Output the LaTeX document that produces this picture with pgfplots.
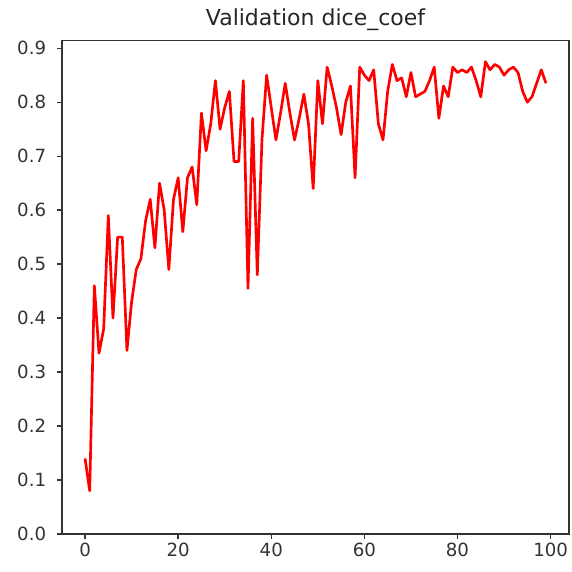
\documentclass[border=0pt]{standalone}
\usepackage{pgfplots}
\pgfplotsset{compat=1.18}
\usepackage{fontspec}
\setmainfont{DejaVu Sans}
\begin{document}
\begin{tikzpicture}
\path[use as bounding box] (0pt,0pt) rectangle (343.2pt,343.2pt);
\begin{axis}[
  at={(37.2pt,22.8pt)}, anchor=south west,
  scale only axis,
  width=304.2pt, height=296pt,
  xmin=-4.95, xmax=103.95,
  ymin=0, ymax=0.914,
  xtick={0,20,40,60,80,100},
  ytick={0,0.1,0.2,0.3,0.4,0.5,0.6,0.7,0.8,0.9},
  tick align=outside,
  tick pos=left,
  major tick length=3pt,
  axis line style={line width=0.8pt, black!80},
  tick style={line width=0.8pt, black!80},
  /pgf/number format/assume math mode=true,
  yticklabel style={/pgf/number format/fixed, /pgf/number format/fixed zerofill, /pgf/number format/precision=1, xshift=-3pt},
  xticklabel style={/pgf/number format/fixed, yshift=1pt},
  tick label style={font=\fontsize{10.9}{13}\selectfont, text=black!80},
  title={Validation dice\_coef},
  title style={font=\fontsize{13.2}{15}\selectfont, anchor=base, at={(0.5,1)}, yshift=2.8pt, text=black!85},
]
\addplot[color=red, line width=1.6pt, line join=round] table[x=i, y=v] {
i v
0 0.14
1 0.08
2 0.46
3 0.335
4 0.38
5 0.59
6 0.40
7 0.55
8 0.55
9 0.34
10 0.43
11 0.49
12 0.51
13 0.58
14 0.62
15 0.53
16 0.65
17 0.60
18 0.49
19 0.62
20 0.66
21 0.56
22 0.66
23 0.68
24 0.61
25 0.78
26 0.71
27 0.76
28 0.84
29 0.75
30 0.79
31 0.82
32 0.69
33 0.69
34 0.84
35 0.455
36 0.77
37 0.48
38 0.73
39 0.85
40 0.79
41 0.73
42 0.78
43 0.835
44 0.78
45 0.73
46 0.77
47 0.815
48 0.76
49 0.64
50 0.84
51 0.76
52 0.865
53 0.83
54 0.79
55 0.74
56 0.80
57 0.83
58 0.66
59 0.865
60 0.85
61 0.84
62 0.86
63 0.76
64 0.73
65 0.82
66 0.87
67 0.84
68 0.845
69 0.81
70 0.855
71 0.81
72 0.815
73 0.82
74 0.84
75 0.865
76 0.77
77 0.83
78 0.81
79 0.865
80 0.855
81 0.86
82 0.855
83 0.865
84 0.84
85 0.81
86 0.875
87 0.86
88 0.87
89 0.865
90 0.85
91 0.86
92 0.865
93 0.855
94 0.82
95 0.80
96 0.81
97 0.835
98 0.86
99 0.835
};
\end{axis}
\end{tikzpicture}
\end{document}
